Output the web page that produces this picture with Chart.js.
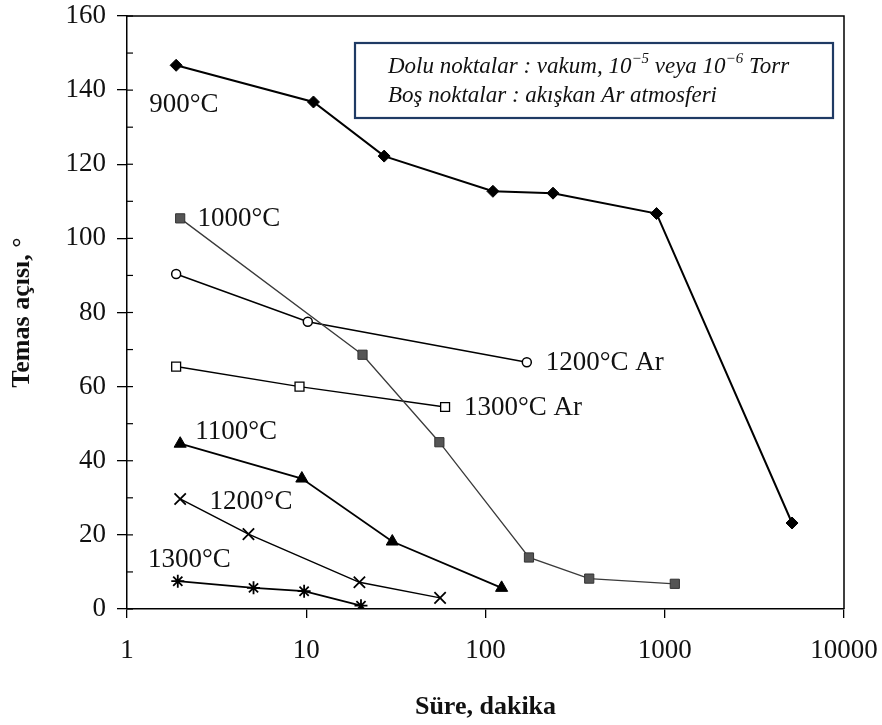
<!DOCTYPE html>
<html><head><meta charset="utf-8">
<script src="https://cdn.jsdelivr.net/npm/chart.js@4.4.0/dist/chart.umd.min.js"></script>
<style>html,body{margin:0;padding:0;background:#fff}#wrap{width:882px;height:725px}</style>
</head><body><div id="wrap"><canvas id="c" width="882" height="725"></canvas></div>
<script>
// ---- data ----
const xTickValues = [1, 10, 100, 1000, 10000];
const yMin = 0, yMax = 160;

const t900x  = [1.88, 10.97, 27.2, 110, 238, 900, 5130];
const t900y  = [146.7, 136.8, 122.2, 112.7, 112.2, 106.7, 23.2];

const t1000x = [1.98, 20.6, 55.3, 174.8, 379, 1138];
const t1000y = [105.4, 68.6, 45.0, 13.9, 8.2, 6.8];

const t1200Arx = [1.88, 10.2, 170];
const t1200Ary = [90.4, 77.5, 66.6];

const t1300Arx = [1.88, 9.17, 59.5];
const t1300Ary = [65.4, 60.0, 54.5];

const t1100x = [1.98, 9.45, 30.2, 123];
const t1100y = [44.6, 35.2, 18.2, 5.7];

const t1200x = [1.98, 4.76, 19.8, 55.8];
const t1200y = [29.7, 20.2, 7.2, 3.0];

const t1300x = [1.92, 5.08, 9.73, 20.2];
const t1300y = [7.5, 5.7, 4.8, 0.9];

const seriesNames = ['900°C', '1000°C', '1200°C Ar', '1300°C Ar', '1100°C', '1200°C', '1300°C'];
const labelX = [1.33, 2.475, 217, 75.9, 2.40, 2.89, 1.31];
const labelY = [136, 105.2, 66.3, 54.2, 47.9, 29.0, 13.3];

const xTitle = 'Süre, dakika';
const yTitle = 'Temas açısı, °';
const legendLine1 = ['Dolu noktalar : vakum, 10', '\u22125', ' veya 10', '\u22126', ' Torr'];
const legendLine2 = 'Boş noktalar : akışkan Ar atmosferi';

const SERIF = '"Liberation Serif", "Times New Roman", serif';
const pts = (xs, ys) => xs.map((x, i) => ({x: x, y: ys[i]}));

const datasets = [
  {label: seriesNames[0], data: pts(t900x, t900y), borderColor: '#000', borderWidth: 2,
   pointStyle: 'rectRot', pointRadius: 6, pointBackgroundColor: '#000', pointBorderColor: '#000', pointBorderWidth: 1},
  {label: seriesNames[1], data: pts(t1000x, t1000y), borderColor: '#3a3a3a', borderWidth: 1.3,
   pointStyle: 'rect', pointRadius: 6.5, pointBackgroundColor: '#555', pointBorderColor: '#333', pointBorderWidth: 1},
  {label: seriesNames[2], data: pts(t1200Arx, t1200Ary), borderColor: '#000', borderWidth: 1.5,
   pointStyle: 'circle', pointRadius: 4.5, pointBackgroundColor: '#fff', pointBorderColor: '#000', pointBorderWidth: 1.5},
  {label: seriesNames[3], data: pts(t1300Arx, t1300Ary), borderColor: '#000', borderWidth: 1.5,
   pointStyle: 'rect', pointRadius: 6.3, pointBackgroundColor: '#fff', pointBorderColor: '#000', pointBorderWidth: 1.3},
  {label: seriesNames[4], data: pts(t1100x, t1100y), borderColor: '#000', borderWidth: 1.8,
   pointStyle: 'triangle', pointRadius: 7, pointBackgroundColor: '#000', pointBorderColor: '#000', pointBorderWidth: 1},
  {label: seriesNames[5], data: pts(t1200x, t1200y), borderColor: '#000', borderWidth: 1.5,
   pointStyle: 'crossRot', pointRadius: 8, pointBackgroundColor: '#000', pointBorderColor: '#000', pointBorderWidth: 1.8},
  {label: seriesNames[6], data: pts(t1300x, t1300y), borderColor: '#000', borderWidth: 1.8,
   pointStyle: 'star', pointRadius: 6.5, pointBackgroundColor: '#000', pointBorderColor: '#000', pointBorderWidth: 1.8}
];
datasets.forEach(d => { d.fill = false; d.tension = 0; d.pointHoverRadius = d.pointRadius; });

const decor = {
  id: 'decor',
  afterDraw(chart) {
    const ctx = chart.ctx, a = chart.chartArea;
    const xs = chart.scales.x, ys = chart.scales.y;
    ctx.save();
    // plot frame top/right
    ctx.strokeStyle = '#000'; ctx.lineWidth = 1.5;
    ctx.beginPath();
    ctx.moveTo(a.left, a.top); ctx.lineTo(a.right, a.top); ctx.lineTo(a.right, a.bottom);
    ctx.stroke();
    // inward y ticks
    ctx.lineWidth = 1.2;
    for (let v = yMin; v <= yMax; v += 10) {
      const py = ys.getPixelForValue(v);
      ctx.beginPath(); ctx.moveTo(a.left, py); ctx.lineTo(a.left + 6, py); ctx.stroke();
    }
    // series labels
    ctx.fillStyle = '#111';
    ctx.font = '27px ' + SERIF;
    ctx.textBaseline = 'middle'; ctx.textAlign = 'left';
    seriesNames.forEach((n, i) => {
      ctx.fillText(n, xs.getPixelForValue(labelX[i]), ys.getPixelForValue(labelY[i]));
    });
    // legend box
    const bx = 355, by = 43, bw = 478, bh = 75;
    ctx.fillStyle = '#fff';
    ctx.fillRect(bx, by, bw, bh);
    ctx.strokeStyle = '#1f3a64'; ctx.lineWidth = 2.2;
    ctx.strokeRect(bx, by, bw, bh);
    ctx.fillStyle = '#111';
    ctx.textBaseline = 'alphabetic';
    const main = 'italic 23px ' + SERIF, sup = 'italic 15px ' + SERIF;
    let x = 388;
    const base1 = 73, base2 = 102;
    legendLine1.forEach((s, i) => {
      const isSup = (i % 2 === 1);
      ctx.font = isSup ? sup : main;
      ctx.fillText(s, x, isSup ? base1 - 10 : base1);
      x += ctx.measureText(s).width;
    });
    ctx.font = main;
    ctx.fillText(legendLine2, 388, base2);
    ctx.restore();
  }
};

const zeroPad = s => { s.paddingTop = 0; s.paddingBottom = 0; s.paddingLeft = 0; s.paddingRight = 0; };

new Chart(document.getElementById('c'), {
  type: 'line',
  data: {datasets: datasets},
  options: {
    responsive: false, animation: false, devicePixelRatio: 1,
    layout: {padding: {top: 16, right: 38, left: 0, bottom: 0}},
    plugins: {legend: {display: false}, tooltip: {enabled: false}},
    scales: {
      x: {
        type: 'logarithmic', min: 1, max: 10000,
        afterBuildTicks: s => { s.ticks = xTickValues.map(v => ({value: v})); },
        afterFit: s => { s.height = 116; zeroPad(s); },
        ticks: {callback: v => String(v), color: '#111', font: {family: SERIF, size: 27}, padding: 17, maxRotation: 0, autoSkip: false},
        grid: {drawOnChartArea: false, tickLength: 9, color: '#000', lineWidth: 1.3},
        border: {color: '#000', width: 1.5},
        title: {display: true, text: xTitle, color: '#111', font: {family: SERIF, size: 26, weight: 'bold'}, padding: {top: 0, bottom: 2}}
      },
      y: {
        min: yMin, max: yMax,
        afterBuildTicks: s => { const t = []; for (let v = yMin; v <= yMax; v += 10) t.push({value: v}); s.ticks = t; },
        afterFit: s => { s.width = 127; zeroPad(s); },
        ticks: {callback: v => (v % 20 === 0 ? String(v) : ''), color: '#111', font: {family: SERIF, size: 27}, padding: 11, autoSkip: false},
        grid: {drawOnChartArea: false, tickLength: 10, lineWidth: 1.3,
               tickColor: c => (c.tick && c.tick.value % 20 === 0 ? '#000' : 'rgba(0,0,0,0)'), color: '#000'},
        border: {color: '#000', width: 1.5},
        title: {display: true, text: yTitle, color: '#111', font: {family: SERIF, size: 26, weight: 'bold'}, padding: {top: 7, bottom: 0}}
      }
    }
  },
  plugins: [decor]
});
</script></body></html>
